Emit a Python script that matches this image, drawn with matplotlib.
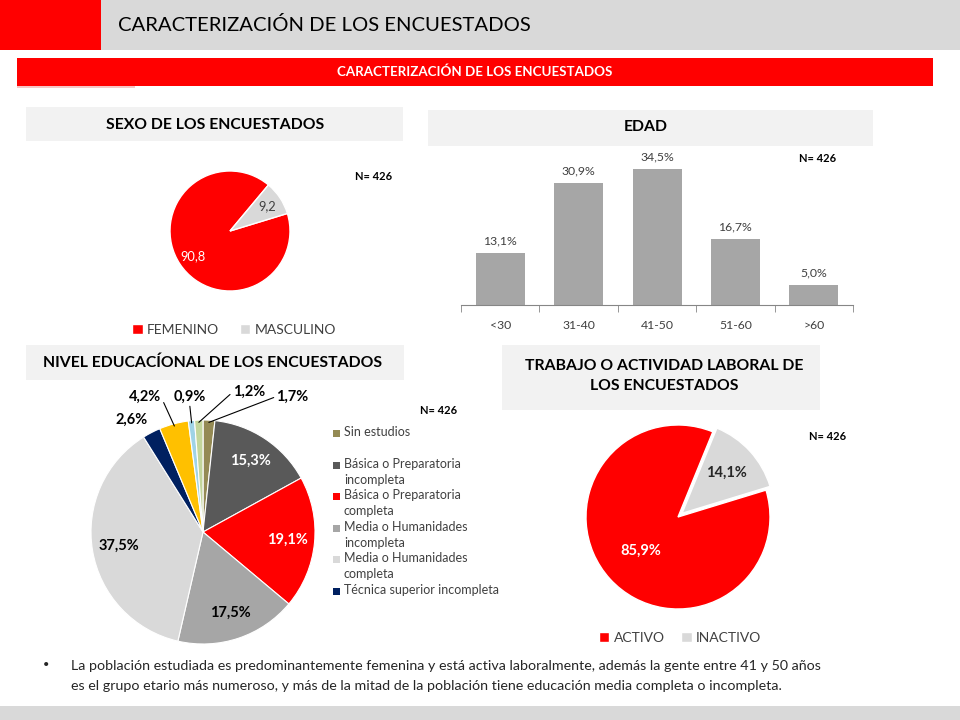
import numpy as np
import matplotlib
matplotlib.use("Agg")
import matplotlib.pyplot as plt
from matplotlib.patches import Rectangle

plt.rcParams['font.family'] = ['Lato', 'DejaVu Sans']

# ---- data ----
sexo_labels = ['FEMENINO', 'MASCULINO']
sexo_vals = [90.8, 9.2]

edad_cats = ['<30', '31-40', '41-50', '51-60', '>60']
edad_vals = [13.1, 30.9, 34.5, 16.7, 5.0]

edu_labels = ['Sin estudios', 'Básica o Preparatoria\nincompleta',
              'Básica o Preparatoria\ncompleta', 'Media o Humanidades\nincompleta',
              'Media o Humanidades\ncompleta', 'Técnica superior incompleta',
              'Técnica superior completa', 'Universitaria incompleta',
              'Universitaria completa']
edu_vals = [1.7, 15.3, 19.1, 17.5, 37.5, 2.6, 4.2, 0.9, 1.2]

trabajo_labels = ['ACTIVO', 'INACTIVO']
trabajo_vals = [85.9, 14.1]

RED = '#FF0000'
W, H = 960, 720
TXT = '#262626'


def rect(x0, y0, x1, y1):
    return [x0 / W, 1 - y1 / H, (x1 - x0) / W, (y1 - y0) / H]


def box(x0, y0, x1, y1, color):
    fig.add_artist(Rectangle((x0 / W, 1 - y1 / H), (x1 - x0) / W, (y1 - y0) / H,
                             transform=fig.transFigure, color=color, lw=0, zorder=0))


def ftext(x, y, s, **kw):
    fig.text(x / W, 1 - y / H, s, **kw)


def pie_axes(cx, cy, r, pad=1.35):
    s = r * pad
    ax = fig.add_axes(rect(cx - s, cy - s, cx + s, cy + s))
    return ax, pad


fig = plt.figure(figsize=(9.6, 7.2), dpi=100)

# header
box(0, 0, 960, 50, '#D9D9D9')
box(0, 0, 101, 50, RED)
ftext(118, 25, 'CARACTERIZACIÓN DE LOS ENCUESTADOS', fontsize=14.6, va='center', color='black')
box(17, 58, 933, 86, RED)
box(17, 86, 135, 88, '#F6C6C6')
ftext(475, 72, 'CARACTERIZACIÓN DE LOS ENCUESTADOS', fontsize=9.6, fontweight='bold',
      color='white', ha='center', va='center')

# section title boxes
box(26, 107, 403, 141, '#F2F2F2')
ftext(215, 125, 'SEXO DE LOS ENCUESTADOS', fontsize=11.3, fontweight='bold', ha='center', va='center')
box(428, 110, 873, 146, '#F2F2F2')
ftext(646, 127, 'EDAD', fontsize=11.3, fontweight='bold', ha='center', va='center')
box(26, 345, 404, 380, '#F2F2F2')
ftext(213, 363, 'NIVEL EDUCACÍONAL DE LOS ENCUESTADOS', fontsize=11.3, fontweight='bold',
      ha='center', va='center')
box(502, 345, 820, 410, '#F2F2F2')
ftext(664, 376, 'TRABAJO O ACTIVIDAD LABORAL DE\nLOS ENCUESTADOS', fontsize=11.3,
      fontweight='bold', ha='center', va='center', linespacing=1.6)

for (x, y) in [(374, 176), (818, 158), (439, 411), (828, 437)]:
    ftext(x, y, 'N= 426', fontsize=8, fontweight='bold', ha='center', va='center')

# ---- sexo pie ----
ax1, p = pie_axes(230, 231, 60)
w1, _ = ax1.pie(sexo_vals, colors=[RED, '#D9D9D9'], startangle=17, counterclock=False,
                wedgeprops=dict(edgecolor='white', linewidth=1))
ax1.set_xlim(-p, p)
ax1.set_ylim(-p, p)
for w, v, c in zip(w1, sexo_vals, ['white', '#404040']):
    t = np.deg2rad((w.theta1 + w.theta2) / 2)
    ax1.text(0.75 * np.cos(t), 0.75 * np.sin(t), f'{v:.1f}'.replace('.', ','),
             ha='center', va='center', fontsize=9.3, color=c)
ax1.legend(w1, sexo_labels, loc='center',
           bbox_to_anchor=(0.5 + (234 - 230) / (120 * p), 0.5 - 99 / (120 * p)),
           ncol=2, frameon=False, fontsize=10, handlelength=0.75, handleheight=0.75,
           handletextpad=0.3, columnspacing=1.5, labelcolor='#404040')

# ---- edad bars ----
ax2 = fig.add_axes(rect(461, 150, 853, 305))
x = np.arange(len(edad_cats))
ax2.bar(x, edad_vals, width=0.625, color='#A6A6A6')
ax2.set_xlim(-0.5, len(edad_cats) - 0.5)
ax2.set_ylim(0, 39.4)
for xi, v in zip(x, edad_vals):
    ax2.annotate(f'{v:.1f}%'.replace('.', ','), (xi, v), xytext=(0, 9),
                 textcoords='offset points', ha='center', va='center',
                 fontsize=8.8, color='#404040')
for s in ['top', 'right', 'left']:
    ax2.spines[s].set_visible(False)
ax2.spines['bottom'].set_color('#868686')
ax2.set_yticks([])
ax2.set_xticks(x)
ax2.set_xticklabels(edad_cats, fontsize=8.8, color='#404040')
ax2.set_xticks(np.arange(len(edad_cats) + 1) - 0.5, minor=True)
ax2.tick_params(axis='x', which='major', length=0, pad=11)
ax2.tick_params(axis='x', which='minor', length=5, color='#868686', direction='out')
ax2.patch.set_alpha(0)

# ---- educacion pie ----
edu_colors = ['#948A54', '#595959', RED, '#A6A6A6', '#D9D9D9', '#002060',
              '#FFC000', '#9FD3E6', '#C3D69B']
ax3, p = pie_axes(203, 532, 112, pad=1.45)
w3, _ = ax3.pie(edu_vals, colors=edu_colors, startangle=90, counterclock=False,
                wedgeprops=dict(edgecolor='white', linewidth=0.8))
ax3.set_xlim(-p, p)
ax3.set_ylim(-p, p)
inside_col = {1: 'white', 2: 'white', 3: 'black', 4: 'black'}
outside = {0: (0.80, 1.21, (0, 0.5)), 5: (-0.64, 1.0, None), 6: (-0.52, 1.21, (1, 0.5)),
           7: (-0.12, 1.21, (0.5, 0)), 8: (0.41, 1.25, (0, 0.5))}
for i, (w, v) in enumerate(zip(w3, edu_vals)):
    t = np.deg2rad((w.theta1 + w.theta2) / 2)
    lab = f'{v:.1f}%'.replace('.', ',')
    if i in inside_col:
        ax3.text(0.76 * np.cos(t), 0.76 * np.sin(t), lab, ha='center', va='center',
                 fontsize=10.5, fontweight='bold', color=inside_col[i])
    else:
        lx, ly, rp = outside[i]
        if rp is None:
            ax3.text(lx, ly, lab, ha='center', va='center', fontsize=10.5, fontweight='bold')
        else:
            ax3.annotate(lab, (0.98 * np.cos(t), 0.98 * np.sin(t)), xytext=(lx, ly),
                         ha='center', va='center', fontsize=10.5, fontweight='bold',
                         arrowprops=dict(arrowstyle='-', lw=0.8, color='black',
                                         shrinkA=0, shrinkB=0, relpos=rp))

# legend for education (first six entries only, as in the source)
for i in range(6):
    y = 434 + i * 31.4
    box(333, y - 3.5, 340, y + 3.5, edu_colors[i])
    ftext(344, y - 7.5, edu_labels[i], fontsize=9, color='#404040', va='top',
          linespacing=1.4)

# ---- trabajo pie ----
ax4, p = pie_axes(678, 517, 92)
w4, _ = ax4.pie(trabajo_vals, colors=[RED, '#D9D9D9'], startangle=17, counterclock=False,
                explode=[0, 0.06], wedgeprops=dict(edgecolor='white', linewidth=1))
ax4.set_xlim(-p, p)
ax4.set_ylim(-p, p)
for w, v, c, d in zip(w4, trabajo_vals, ['white', TXT], [0.55, 0.72]):
    t = np.deg2rad((w.theta1 + w.theta2) / 2)
    ax4.text(d * np.cos(t), d * np.sin(t), f'{v:.1f}%'.replace('.', ','),
             ha='center', va='center', fontsize=10.5, fontweight='bold', color=c)
ax4.legend(w4, trabajo_labels, loc='center',
           bbox_to_anchor=(0.5 + (680 - 678) / (184 * p), 0.5 - 121 / (184 * p)),
           ncol=2, frameon=False, fontsize=10, handlelength=0.75, handleheight=0.75,
           handletextpad=0.3, columnspacing=1.2, labelcolor='#404040')

# ---- bottom note ----
ftext(43, 664, '•', fontsize=8, va='center', color=TXT)
ftext(71, 666, 'La población estudiada es predominantemente femenina y está activa laboralmente, '
               'además la gente entre 41 y 50 años', fontsize=10.3, va='center', color=TXT)
ftext(71, 686, 'es el grupo etario más numeroso, y más de la mitad de la población tiene '
               'educación media completa o incompleta.', fontsize=10.3, va='center', color=TXT)
box(0, 706, 960, 720, '#D9D9D9')

fig.savefig('out.png', dpi=100)
